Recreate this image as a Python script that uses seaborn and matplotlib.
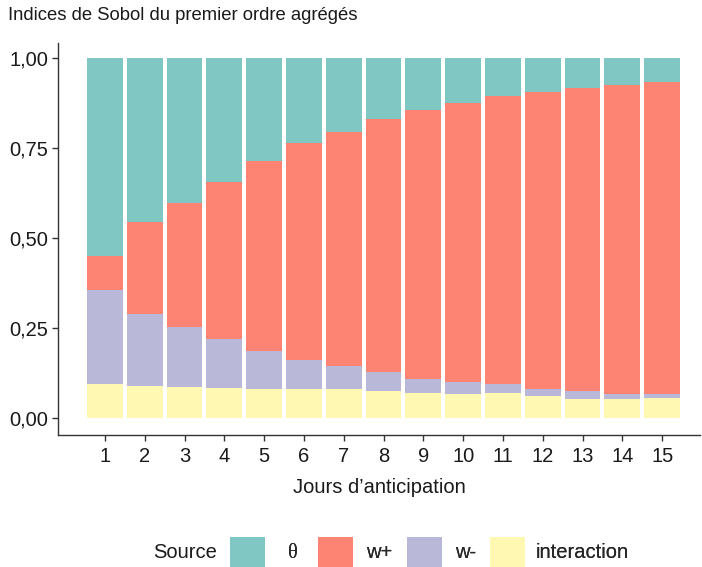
import matplotlib
matplotlib.use("Agg")
import matplotlib.pyplot as plt
from matplotlib.patches import Patch
import seaborn as sns
import numpy as np
import pandas as pd

days = [str(i) for i in range(1, 16)]
interaction = [0.094, 0.090, 0.086, 0.084, 0.081, 0.081, 0.081, 0.076, 0.069, 0.068, 0.069, 0.061, 0.054, 0.054, 0.056]
w_minus = [0.261, 0.199, 0.167, 0.136, 0.104, 0.079, 0.063, 0.051, 0.040, 0.031, 0.025, 0.020, 0.021, 0.014, 0.011]
w_plus = [0.094, 0.257, 0.344, 0.436, 0.530, 0.604, 0.651, 0.703, 0.748, 0.775, 0.802, 0.826, 0.842, 0.858, 0.867]
theta = [0.551, 0.454, 0.403, 0.344, 0.285, 0.236, 0.205, 0.170, 0.143, 0.126, 0.104, 0.093, 0.083, 0.074, 0.066]

sources = ["θ", "w+", "w-", "interaction"]
colors = {"θ": "#80C6C2", "w+": "#FD8372", "w-": "#BAB8D8", "interaction": "#FFF8B2"}
yticks = [0.0, 0.25, 0.5, 0.75, 1.0]
ytick_labels = ["0,00", "0,25", "0,50", "0,75", "1,00"]

sns.set_theme(style="white")
plt.rcParams["font.family"] = ["Liberation Sans", "DejaVu Sans"]

df = pd.DataFrame({"day": days, "interaction": interaction, "w-": w_minus,
                   "w+": w_plus, "θ": theta})
# cumulative heights from bottom: interaction, w-, w+, θ
df["c_int"] = df["interaction"]
df["c_wm"] = df["c_int"] + df["w-"]
df["c_wp"] = df["c_wm"] + df["w+"]
df["c_th"] = df["c_wp"] + df["θ"]

fig = plt.figure(figsize=(7.02, 5.67), dpi=100)
ax = fig.add_axes([58/702, 1-435/567, (700-58)/702, (435-43)/567])

for col, src in [("c_th", "θ"), ("c_wp", "w+"), ("c_wm", "w-"), ("c_int", "interaction")]:
    sns.barplot(data=df, x="day", y=col, color=colors[src], saturation=1,
                width=0.9, linewidth=0, errorbar=None, ax=ax)

ax.set_xlim(-1.18, 14.95)
ax.set_ylim(-0.047, 1.042)
ax.set_yticks(yticks)
ax.set_yticklabels(ytick_labels)
ax.set_xlabel("Jours d’anticipation", fontsize=14.5, color="#1a1a1a", labelpad=9)
ax.set_ylabel("")
sns.despine(ax=ax)
for s in ["left", "bottom"]:
    ax.spines[s].set_color("#333333")
    ax.spines[s].set_linewidth(1.0)
ax.tick_params(axis="both", which="major", direction="out", length=4, width=1,
               color="#333333", labelsize=14.5, labelcolor="#1a1a1a", pad=3, left=True, bottom=True)
ax.tick_params(axis="x", pad=4.5)

fig.text(8/702, 1-15/567, "Indices de Sobol du premier ordre agrégés", fontsize=13.3,
         color="#1a1a1a", ha="left", va="center")

# legend: one entry per box, placed like the reference
key_left = [230, 318, 407, 490]
text_pad = [1.14, 0.65, 0.65, 0.55]
for i, s in enumerate(sources):
    leg = fig.legend([Patch(facecolor=colors[s], edgecolor="none")], [s], loc="center left",
                     bbox_to_anchor=(key_left[i]/702, 1-552/567), frameon=False,
                     fontsize=14.5, handlelength=1.74, handleheight=1.95,
                     handletextpad=text_pad[i], borderaxespad=0, borderpad=0)
    if s == "θ":
        leg.get_texts()[0].set_fontfamily(["Liberation Serif", "DejaVu Serif"])
    fig.add_artist(leg)
fig.text(153/702, 1-553/567, "Source", fontsize=14.5, color="#1a1a1a", ha="left", va="center")

fig.savefig("out.png", dpi=100)
